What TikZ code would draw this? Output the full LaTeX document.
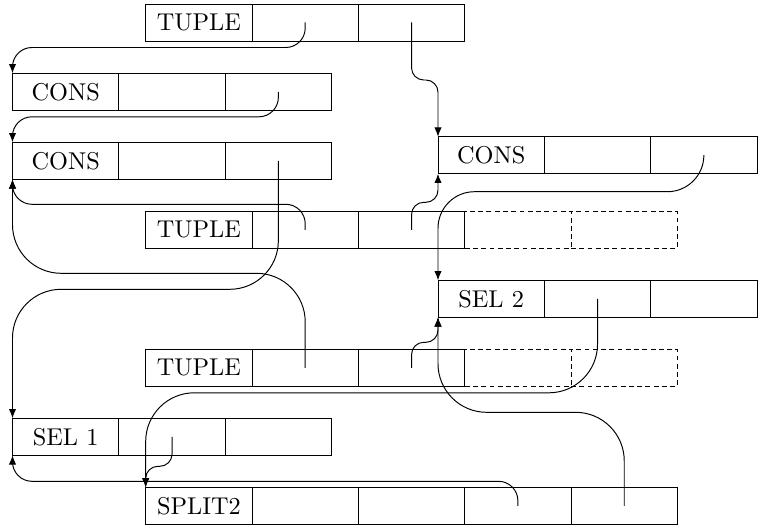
\documentclass[tikz,border=0pt]{standalone}
\usetikzlibrary{arrows.meta,positioning}
\tikzset{
  heap cell/.style={draw, line width=.4pt, minimum width=43.76pt, minimum height=15.23pt, inner sep=0pt, outer sep=0pt},
  heap label/.style={heap cell, font=\rmfamily},
  heap spare/.style={heap cell, dash pattern=on 2pt off 1.4pt},
  heap ptr/.style={line width=.4pt, rounded corners=8pt, -{Latex[length=3.8pt,width=3pt]}},
  heap ptr wide/.style={heap ptr, rounded corners=20pt},
  heap ptr kink/.style={heap ptr, rounded corners=5pt},
}

\begin{document}
\begin{tikzpicture}[x=.4115pt,y=.4115pt]
  \useasboundingbox (0,0) rectangle (763,528);

  % records, left column
  \node[heap label, anchor=north west] (consB) at (12.5,454.7) {CONS};
  \node[heap cell, right=0pt of consB] (consB-1) {};
  \node[heap cell, right=0pt of consB-1] (consB-2) {};

  \node[heap label, anchor=north west] (consC) at (12.5,385.7) {CONS};
  \node[heap cell, right=0pt of consC] (consC-1) {};
  \node[heap cell, right=0pt of consC-1] (consC-2) {};

  \node[heap label, anchor=north west] (sel1) at (12.5,109.7) {SEL 1};
  \node[heap cell, right=0pt of sel1] (sel1-1) {};
  \node[heap cell, right=0pt of sel1-1] (sel1-2) {};

  % records, middle column
  \node[heap label, anchor=north west] (tupA) at (145.7,524) {TUPLE};
  \node[heap cell, right=0pt of tupA] (tupA-1) {};
  \node[heap cell, right=0pt of tupA-1] (tupA-2) {};

  \node[heap label, anchor=north west] (tupD) at (145.7,316.7) {TUPLE};
  \node[heap cell, right=0pt of tupD] (tupD-1) {};
  \node[heap cell, right=0pt of tupD-1] (tupD-2) {};
  \node[heap spare, right=0pt of tupD-2] (tupD-3) {};
  \node[heap spare, right=0pt of tupD-3] (tupD-4) {};

  \node[heap label, anchor=north west] (tupE) at (145.7,178.7) {TUPLE};
  \node[heap cell, right=0pt of tupE] (tupE-1) {};
  \node[heap cell, right=0pt of tupE-1] (tupE-2) {};
  \node[heap spare, right=0pt of tupE-2] (tupE-3) {};
  \node[heap spare, right=0pt of tupE-3] (tupE-4) {};

  \node[heap label, anchor=north west] (split) at (145.7,40.7) {SPLIT2};
  \node[heap cell, right=0pt of split] (split-1) {};
  \node[heap cell, right=0pt of split-1] (split-2) {};
  \node[heap cell, right=0pt of split-2] (split-3) {};
  \node[heap cell, right=0pt of split-3] (split-4) {};

  % records, right column
  \node[heap label, anchor=north west] (consR) at (438,391.3) {CONS};
  \node[heap cell, right=0pt of consR] (consR-1) {};
  \node[heap cell, right=0pt of consR-1] (consR-2) {};

  \node[heap label, anchor=north west] (sel2) at (438,247.7) {SEL 2};
  \node[heap cell, right=0pt of sel2] (sel2-1) {};
  \node[heap cell, right=0pt of sel2-1] (sel2-2) {};

  % pointers
  \draw[heap ptr] (tupA-1.center) -- ++(0,-25) -| (consB.north west);
  \draw[heap ptr kink] (tupA-2.center) -- ++(0,-57.5) -| (consR.north west);
  \draw[heap ptr] (consB-2.center) -- ++(0,-25) -| (consC.north west);
  \draw[heap ptr wide] (consC-2.center) -- ++(0,-128.5) -| (sel1.north west);
  \draw[heap ptr, rounded corners=15pt] (consR-2.center) -- ++(0,-36.5) -| (sel2.north west);
  \draw[heap ptr] (tupD-1.center) -- ++(0,25.5) -| (consC.south west);
  \draw[heap ptr kink] (tupD-2.center) -- ++(0,27.5) -| (consR.south west);
  \draw[heap ptr wide] (tupE-1.center) -- ++(0,94.5) -| (consC.south west);
  \draw[heap ptr kink] (tupE-2.center) -- ++(0,25.5) -| (sel2.south west);
  \draw[heap ptr wide] (sel2-1.center) -- ++(0,-94) -| (split.north west);
  \draw[heap ptr kink] (sel1-1.center) -- ++(0,-29.5) -| (split.north west);
  \draw[heap ptr] (split-3.center) -- ++(0,24.5) -| (sel1.south west);
  \draw[heap ptr wide] (split-4.center) -- ++(0,93.5) -| (sel2.south west);
\end{tikzpicture}
\end{document}
